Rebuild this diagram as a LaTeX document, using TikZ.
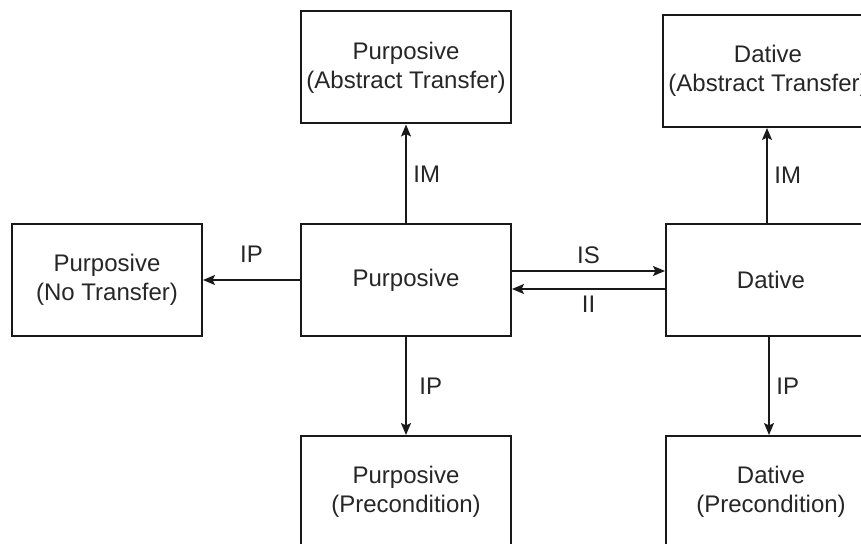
\documentclass[tikz,border=0pt]{standalone}
\usepackage{fontspec}
\setmainfont{Liberation Sans}
\usetikzlibrary{arrows.meta}
\begin{document}
\begin{tikzpicture}[x=0.5pt,y=-0.5pt,
    every node/.style={text=black!85,font=\fontsize{12}{14.5}\selectfont},
    box/.style={draw=black!90,line width=1pt,minimum width=105pt,minimum height=56pt,align=center,inner sep=0pt},
    arr/.style={draw=black!90,line width=0.8pt,-{Stealth[length=6pt,width=5pt,inset=1.2pt]}}]
    \useasboundingbox (0,0) rectangle (861,544);
    \clip (0,0) rectangle (861,544);
    \node[box] (pat) at (406,67.5) {Purposive\\(Abstract Transfer)};
    \node[box] (dat) at (768,71) {Dative\\(Abstract Transfer)};
    \node[box,minimum width=95pt] (pnt) at (107,280) {Purposive\\(No Transfer)};
    \node[box] (pur) at (406,280) {Purposive};
    \node[box] (dtv) at (771,280) {Dative};
    \node[box] (ppc) at (406,492) {Purposive\\(Precondition)};
    \node[box] (dpc) at (771,492) {Dative\\(Precondition)};
    \draw[arr] (pur.west)--node[above=5pt] {IP} (pnt.east);
    \draw[arr] (pur.north)--node[right] {IM} (pur.north |- pat.south);
    \draw[arr] (pur.south)--node[right=3pt] {IP} (pur.south |- ppc.north);
    \draw[arr] ([yshift=4.5pt]pur.east)--node[above] {IS} ([yshift=4.5pt]dtv.west);
    \draw[arr] ([yshift=-4.5pt]dtv.west)--node[below] {II} ([yshift=-4.5pt]pur.east);
    \draw[arr] ([xshift=-2pt]dtv.north)--node[right] {IM} ([xshift=-2pt]dtv.north |- dat.south);
    \draw[arr] ([xshift=-1pt]dtv.south)--node[right] {IP} ([xshift=-1pt]dtv.south |- dpc.north);
  \end{tikzpicture}
\end{document}
